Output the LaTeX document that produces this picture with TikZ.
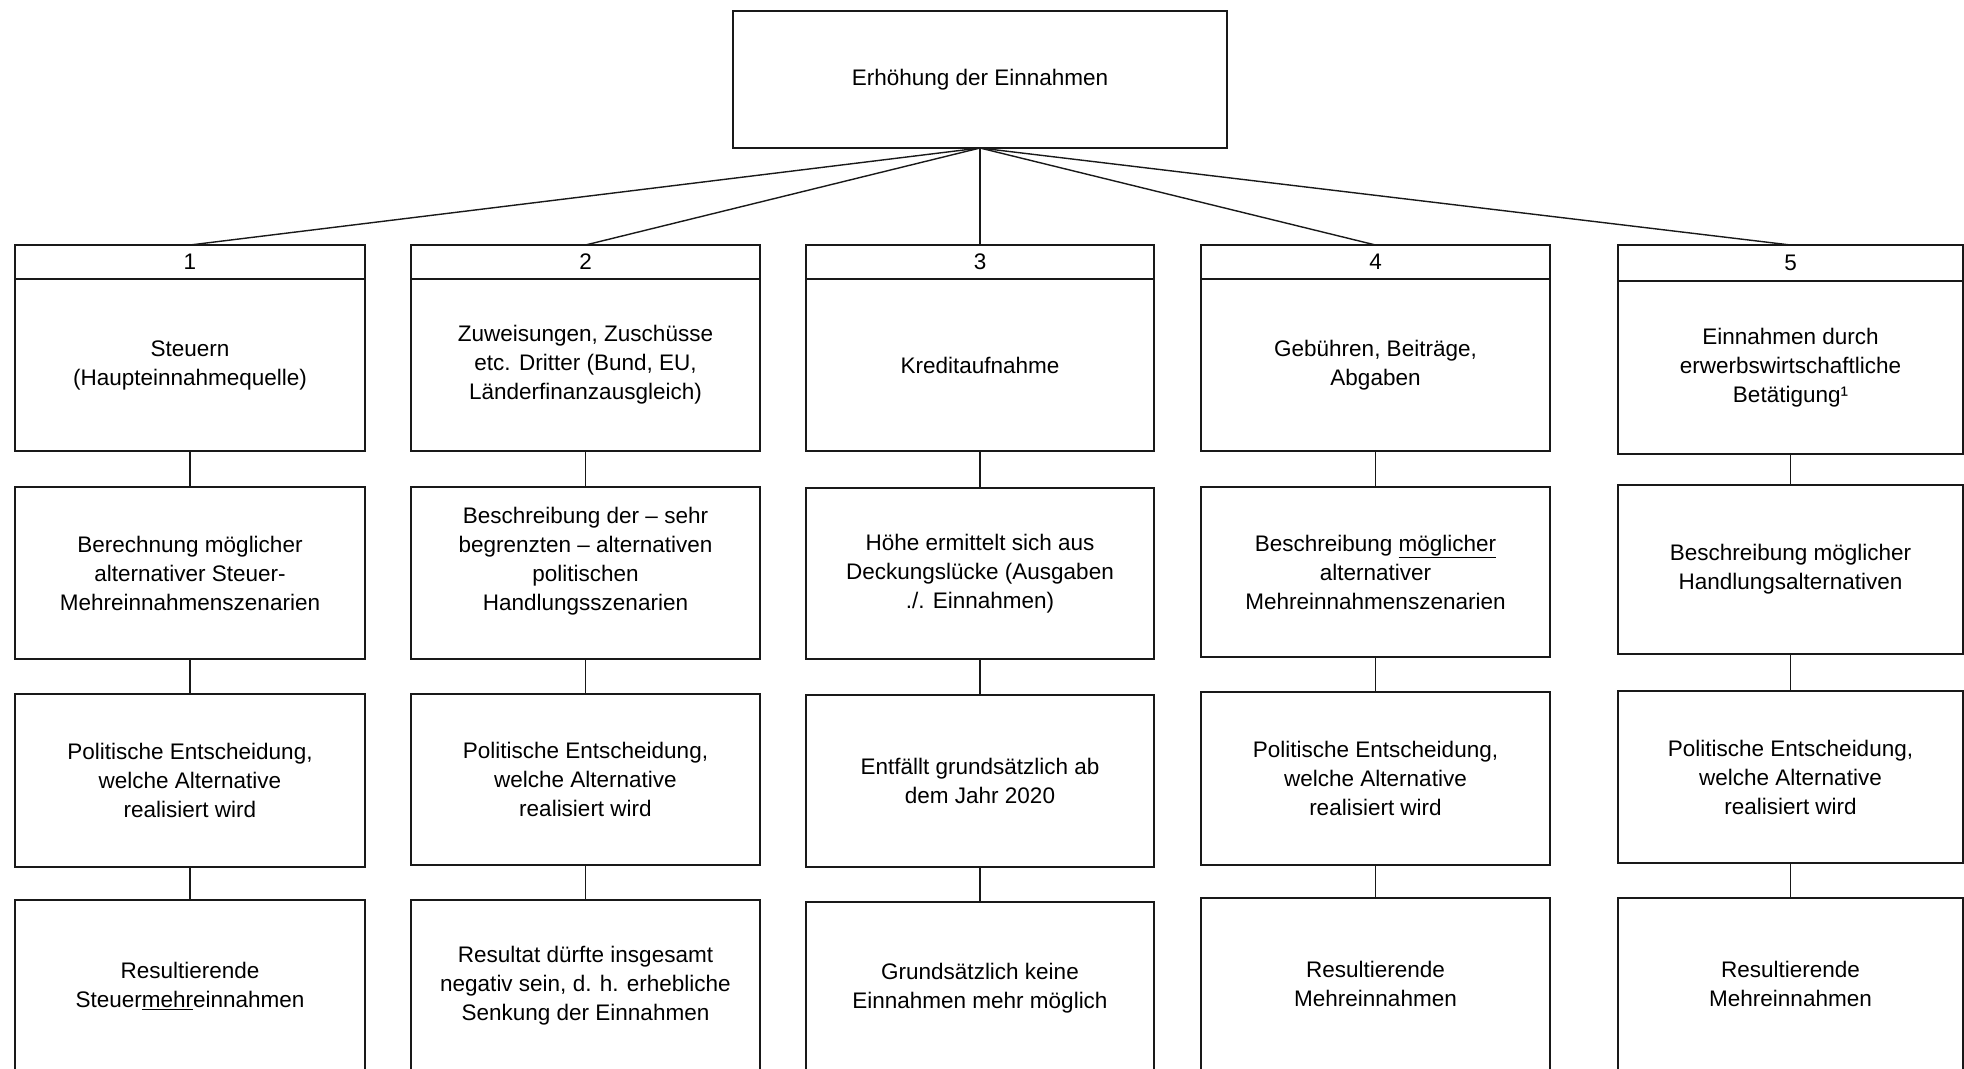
\documentclass[tikz,border=0pt]{standalone}
\usepackage{fontspec}
\setmainfont{Liberation Sans}
\tikzset{
  box/.style={draw=black!90, line width=1.8pt, align=center, inner sep=0pt, outer sep=0pt,
    font=\fontsize{22.5}{29}\selectfont},
  conn/.style={draw=black!90, line width=1.4pt},
}
% name, cx, width, top, bottom, text
\newcommand\cbox[6]{%
  \node[box, minimum width=#3, minimum height={#5-#4}] (#1) at (#2, {(#4+#5)/2}) {#6};}
\newcommand\polit{Politische Entscheidung,\\welche Alternative\\realisiert wird}
\begin{document}
\begin{tikzpicture}[x=1pt, y=-1pt]
\useasboundingbox (0,0) rectangle (1964,1068);
\clip (0,0) rectangle (1964,1068);
\fill[white] (0,0) rectangle (1964,1068);

\node[box, minimum width=494, minimum height=137] (top) at (980,79.5) {Erhöhung der Einnahmen};

% column 1
\cbox{h1}{190}{350}{245}{279}{1}
\cbox{a1}{190}{350}{279}{451}{Steuern\\(Haupteinnahmequelle)}
\cbox{b1}{190}{350}{487}{659}{Berechnung möglicher\\alternativer Steuer-\\Mehreinnahmenszenarien}
\cbox{c1}{190}{350}{694}{867}{\polit}
\cbox{d1}{190}{350}{900}{1072}{Resultierende\\Steuer\underline{mehr}einnahmen}

% column 2
\cbox{h2}{585.5}{349}{245}{279}{2}
\cbox{a2}{585.5}{349}{279}{451}{Zuweisungen, Zuschüsse\\etc. Dritter (Bund, EU,\\Länderfinanzausgleich)}
\cbox{b2}{585.5}{349}{487}{659}{Beschreibung der -- sehr\\begrenzten -- alternativen\\politischen\\Handlungsszenarien\\ \mbox{}}
\cbox{c2}{585.5}{349}{694}{865}{\polit}
\cbox{d2}{585.5}{349}{900}{1072}{Resultat dürfte insgesamt\\negativ sein, d. h. erhebliche\\Senkung der Einnahmen}

% column 3
\cbox{h3}{980}{348}{245}{279}{3}
\cbox{a3}{980}{348}{279}{451}{Kreditaufnahme}
\cbox{b3}{980}{348}{488}{659}{Höhe ermittelt sich aus\\Deckungslücke (Ausgaben\\./. Einnahmen)}
\cbox{c3}{980}{348}{695}{867}{Entfällt grundsätzlich ab\\dem Jahr 2020}
\cbox{d3}{980}{348}{902}{1074}{Grundsätzlich keine\\Einnahmen mehr möglich}

% column 4
\cbox{h4}{1375.5}{349}{245}{279}{4}
\cbox{a4}{1375.5}{349}{279}{451}{Gebühren, Beiträge,\\Abgaben}
\cbox{b4}{1375.5}{349}{487}{657}{Beschreibung \underline{möglicher}\\alternativer\\Mehreinnahmenszenarien}
\cbox{c4}{1375.5}{349}{692}{865}{\polit}
\cbox{d4}{1375.5}{349}{898}{1070}{Resultierende\\Mehreinnahmen}

% column 5
\cbox{h5}{1790.5}{345}{245}{281}{5}
\cbox{a5}{1790.5}{345}{281}{454}{Einnahmen durch\\erwerbswirtschaftliche\\Betätigung¹}
\cbox{b5}{1790.5}{345}{485}{654}{Beschreibung möglicher\\Handlungsalternativen}
\cbox{c5}{1790.5}{345}{691}{863}{\polit}
\cbox{d5}{1790.5}{345}{898}{1070}{Resultierende\\Mehreinnahmen}

% connectors
\foreach \i in {1,...,5}{
  \draw[conn] (top.south) -- (h\i.north);
  \draw[conn] (a\i.south) -- (b\i.north);
  \draw[conn] (b\i.south) -- (c\i.north);
  \draw[conn] (c\i.south) -- (d\i.north);
}
\end{tikzpicture}
\end{document}
